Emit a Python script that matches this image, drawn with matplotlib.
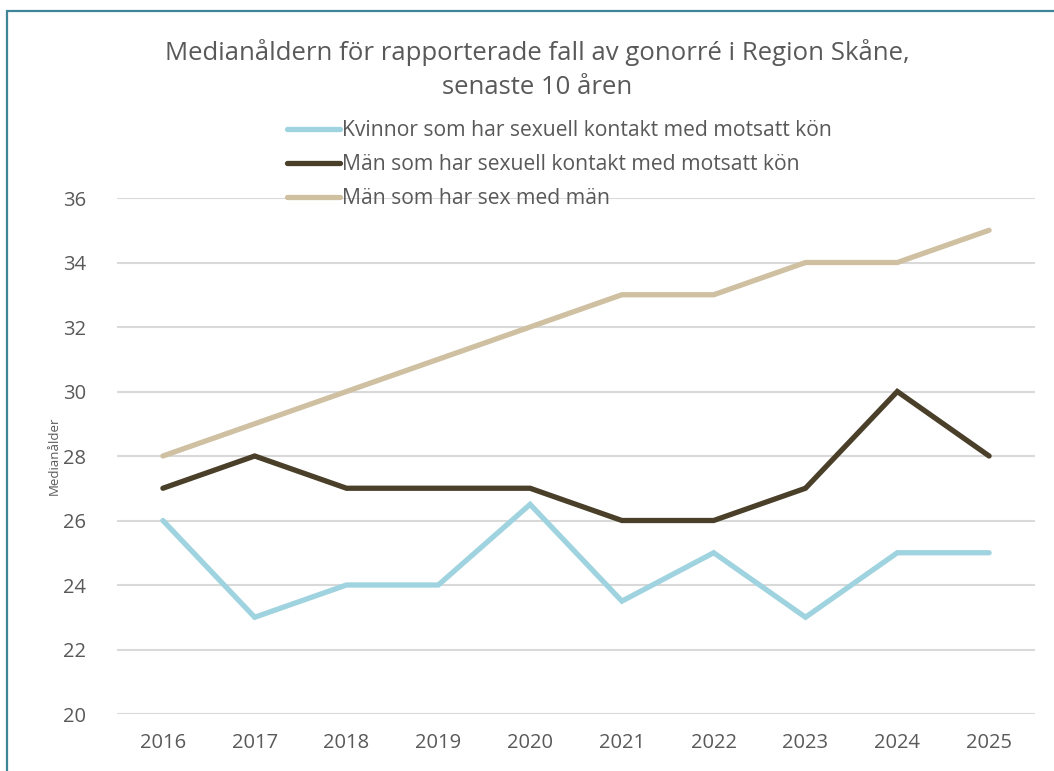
import matplotlib
matplotlib.use("Agg")
import matplotlib.pyplot as plt
from matplotlib.patches import Rectangle

years = ["2016", "2017", "2018", "2019", "2020", "2021", "2022", "2023", "2024", "2025"]
kvinnor = [26, 23, 24, 24, 26.5, 23.5, 25, 23, 25, 25]
man_motsatt = [27, 28, 27, 27, 27, 26, 26, 27, 30, 28]
msm = [28, 29, 30, 31, 32, 33, 33, 34, 34, 35]
labels = ["Kvinnor som har sexuell kontakt med motsatt kön",
          "Män som har sexuell kontakt med motsatt kön",
          "Män som har sex med män"]
yticks = [20, 22, 24, 26, 28, 30, 32, 34, 36]

plt.rcParams['font.family'] = ['Open Sans', 'DejaVu Sans']
TXT = "#595959"

W, H = 1054, 771
fig = plt.figure(figsize=(W / 100, H / 100), dpi=100)
ax = fig.add_axes([117 / W, 1 - 714 / H, (1035 - 117) / W, (714 - 198) / H])

x = list(range(len(years)))
colors = ["#9ED3DF", "#4A3F29", "#CFC0A2"]
series = [kvinnor, man_motsatt, msm]
handles = []
for s, c, lab in zip(series, colors, labels):
    h, = ax.plot(x, s, color=c, lw=3.8, solid_capstyle='round',
                 solid_joinstyle='miter', label=lab, zorder=3)
    handles.append(h)

ax.set_xlim(-0.5, 9.5)
ax.set_ylim(20, 36)
ax.set_yticks(yticks)
ax.set_xticks(x)
ax.set_xticklabels(years)
ax.grid(axis='y', color="#D9D9D9", lw=1.5, zorder=0)
for sp in ax.spines.values():
    sp.set_visible(False)
ax.tick_params(axis='both', length=0, labelsize=14.5, colors=TXT)
ax.tick_params(axis='x', pad=14)
ax.tick_params(axis='y', pad=22)
ax.set_ylabel("Medianålder", fontsize=9.5, color=TXT, labelpad=2)

fig.text(537 / W, 1 - 53 / H, "Medianåldern för rapporterade fall av gonorré i Region Skåne,",
         ha='center', va='center', fontsize=18.5, color=TXT)
fig.text(537 / W, 1 - 87 / H, "senaste 10 åren",
         ha='center', va='center', fontsize=18.5, color=TXT)

leg = fig.legend(handles=handles, labels=labels, loc='upper left',
                 bbox_to_anchor=(287 / W, 1 - 120 / H), frameon=False,
                 fontsize=15.2, handlelength=2.5, handletextpad=0.12,
                 labelspacing=0.62, borderaxespad=0, borderpad=0)
for t in leg.get_texts():
    t.set_color(TXT)

fig.add_artist(Rectangle((6.5 / W, -0.1), 1.2, 1 - 11.5 / H + 0.1,
                         transform=fig.transFigure, fill=False,
                         edgecolor="#3E8597", lw=1.6, zorder=10))

fig.savefig("out.png", dpi=100, facecolor="white")
